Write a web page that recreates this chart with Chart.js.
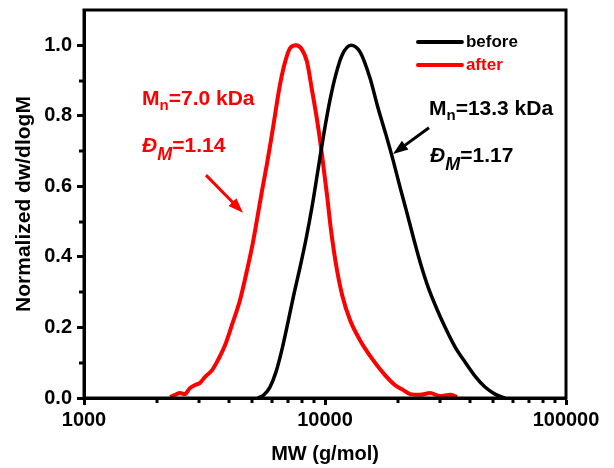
<!DOCTYPE html>
<html>
<head>
<meta charset="utf-8">
<script src="https://cdn.jsdelivr.net/npm/chart.js@4.4.1/dist/chart.umd.min.js"></script>
<style>
  html, body { margin: 0; padding: 0; background: #fff; }
</style>
</head>
<body>
<canvas id="gpcChart" width="614" height="468"></canvas>
<script>
// GPC traces (MW in g/mol, normalized dw/dlogM)
const mwBefore = [5272, 5583, 5912, 6262, 6631, 7022, 7436, 7875, 8340, 8834, 9355, 9906, 10490, 11110, 11770, 12820, 13970, 15370, 16600, 17910, 19150, 20480, 21890, 23410, 25020, 26760, 28880, 31470, 34630, 38090, 41920, 46120, 50740, 55840]
const wBefore = [0, 0.009, 0.031, 0.074, 0.138, 0.215, 0.295, 0.370, 0.450, 0.542, 0.647, 0.752, 0.845, 0.919, 0.972, 1.0, 0.981, 0.907, 0.822, 0.746, 0.675, 0.598, 0.524, 0.448, 0.377, 0.315, 0.258, 0.201, 0.145, 0.102, 0.062, 0.031, 0.011, 0]

const mwAfter = [2275, 2390, 2500, 2620, 2750, 2890, 3030, 3180, 3400, 3600, 3850, 4110, 4440, 4750, 5020, 5220, 5480, 5744, 5970, 6202, 6444, 6760, 7160, 7590, 8040, 8420, 8830, 9270, 9720, 10190, 10590, 11120, 11780, 12700, 13970, 15810, 17740, 19500, 21070, 22540, 24770, 27290, 30000, 33040, 35320]
const wAfter = [0.003, 0.009, 0.014, 0.011, 0.028, 0.037, 0.043, 0.060, 0.079, 0.108, 0.150, 0.207, 0.278, 0.363, 0.440, 0.505, 0.588, 0.664, 0.731, 0.802, 0.873, 0.941, 0.992, 1.0, 0.987, 0.953, 0.873, 0.788, 0.689, 0.576, 0.476, 0.377, 0.292, 0.221, 0.164, 0.108, 0.065, 0.037, 0.023, 0.011, 0.009, 0.014, 0.006, 0.009, 0.003]

const seriesLabels = ['before', 'after']
const seriesColors = ['#000000', '#ff0000']

const xTicks = [1000, 10000, 100000]
const xMinorTicks = [2000, 3000, 4000, 5000, 6000, 7000, 8000, 9000, 20000, 30000, 40000, 50000, 60000, 70000, 80000, 90000]
const yTicks = [0, 0.2, 0.4, 0.6, 0.8, 1.0]
const yMinorTicks = [0.1, 0.3, 0.5, 0.7, 0.9]

const FONT = "'Liberation Sans', Arial, sans-serif"

// annotation anchors in data space [MW, value]
const notes = [
  { color: '#ff0000', at: [1741, 0.831], parts: [['M', 21, false, 0], ['n', 15, false, 5], ['=7.0 kDa', 21, false, 0]] },
  { color: '#ff0000', at: [1741, 0.697], parts: [['Đ', 21, true, 0], ['M', 18, true, 8], ['=1.14', 21, false, 0]] },
  { color: '#000000', at: [27010, 0.802], parts: [['M', 21, false, 0], ['n', 15, false, 5], ['=13.3 kDa', 21, false, 0]] },
  { color: '#000000', at: [27280, 0.669], parts: [['Đ', 21, true, 0], ['M', 18, true, 8], ['=1.17', 21, false, 0]] }
]
const arrows = [
  { color: '#ff0000', from: [3208, 0.632], to: [4567, 0.525] },
  { color: '#000000', from: [27010, 0.766], to: [19150, 0.692] }
]
const legendAt = { x1: 24320, x2: 36990, rows: [1.009, 0.944] }

function toPoints(xs, ys) {
  return xs.map((x, i) => ({ x: x, y: ys[i] }))
}

const extras = {
  id: 'extras',
  afterDraw(chart) {
    const ctx = chart.ctx
    const xs = chart.scales.x
    const ys = chart.scales.y
    const area = chart.chartArea

    // frame
    ctx.save()
    ctx.strokeStyle = '#000'
    ctx.lineWidth = 3
    ctx.strokeRect(area.left, area.top, area.right - area.left, area.bottom - area.top)

    // minor ticks
    ctx.beginPath()
    xMinorTicks.forEach(v => {
      const px = Math.round(xs.getPixelForValue(v))
      ctx.moveTo(px, area.bottom)
      ctx.lineTo(px, area.bottom + 5)
    })
    yMinorTicks.forEach(v => {
      const py = Math.round(ys.getPixelForValue(v))
      ctx.moveTo(area.left, py)
      ctx.lineTo(area.left - 5, py)
    })
    ctx.stroke()

    // legend
    ctx.lineCap = 'round'
    ctx.font = 'bold 17px ' + FONT
    ctx.textBaseline = 'middle'
    chart.data.datasets.forEach((ds, i) => {
      const py = ys.getPixelForValue(legendAt.rows[i])
      const a = xs.getPixelForValue(legendAt.x1)
      const b = xs.getPixelForValue(legendAt.x2)
      ctx.strokeStyle = ds.borderColor
      ctx.lineWidth = 4
      ctx.beginPath()
      ctx.moveTo(a, py)
      ctx.lineTo(b, py)
      ctx.stroke()
      ctx.fillStyle = ds.borderColor
      ctx.fillText(ds.label, b + 4, py)
    })

    // labels with subscripts
    ctx.textBaseline = 'alphabetic'
    notes.forEach(n => {
      let px = xs.getPixelForValue(n.at[0])
      const py = ys.getPixelForValue(n.at[1])
      ctx.fillStyle = n.color
      n.parts.forEach(p => {
        ctx.font = (p[2] ? 'italic ' : '') + 'bold ' + p[1] + 'px ' + FONT
        ctx.fillText(p[0], px, py + p[3])
        px += ctx.measureText(p[0]).width
      })
    })

    // arrows
    arrows.forEach(a => {
      const x1 = xs.getPixelForValue(a.from[0]), y1 = ys.getPixelForValue(a.from[1])
      const x2 = xs.getPixelForValue(a.to[0]), y2 = ys.getPixelForValue(a.to[1])
      const ang = Math.atan2(y2 - y1, x2 - x1)
      const head = 15
      const c = Math.cos(ang), s = Math.sin(ang)
      ctx.strokeStyle = a.color
      ctx.fillStyle = a.color
      ctx.lineWidth = 3
      ctx.lineCap = 'butt'
      ctx.beginPath()
      ctx.moveTo(x1, y1)
      ctx.lineTo(x2 - c * head * 0.8, y2 - s * head * 0.8)
      ctx.stroke()
      ctx.beginPath()
      ctx.moveTo(x2, y2)
      ctx.lineTo(x2 - head * c + 5.5 * s, y2 - head * s - 5.5 * c)
      ctx.lineTo(x2 - head * c - 5.5 * s, y2 - head * s + 5.5 * c)
      ctx.closePath()
      ctx.fill()
    })
    ctx.restore()
  }
}

const config = {
  type: 'line',
  data: {
    datasets: [
      {
        label: seriesLabels[0],
        data: toPoints(mwBefore, wBefore),
        borderColor: seriesColors[0],
        borderWidth: 3.5,
        pointRadius: 0,
        cubicInterpolationMode: 'monotone'
      },
      {
        label: seriesLabels[1],
        data: toPoints(mwAfter, wAfter),
        borderColor: seriesColors[1],
        borderWidth: 4,
        pointRadius: 0,
        cubicInterpolationMode: 'monotone'
      }
    ]
  },
  options: {
    responsive: false,
    animation: false,
    devicePixelRatio: 1,
    layout: { padding: { top: 10, right: 48, left: 0, bottom: 0 } },
    plugins: {
      legend: { display: false },
      tooltip: { enabled: false }
    },
    scales: {
      x: {
        type: 'logarithmic',
        min: 1000,
        max: 100000,
        afterBuildTicks: (scale) => { scale.ticks = xTicks.map(v => ({ value: v, major: true })) },
        afterFit: (scale) => {
          scale.height = 70
          scale.paddingLeft = 0
          scale.paddingRight = 0
        },
        ticks: {
          color: '#000',
          font: { family: FONT, size: 20, weight: 'bold' },
          padding: 3,
          maxRotation: 0,
          callback: (v) => String(v)
        },
        grid: { drawOnChartArea: false, tickLength: 7, tickWidth: 3, tickColor: '#000' },
        border: { width: 3, color: '#000' },
        title: {
          display: true,
          text: 'MW (g/mol)',
          color: '#000',
          font: { family: FONT, size: 20, weight: 'bold' },
          padding: { top: 0, bottom: 2 }
        }
      },
      y: {
        min: 0,
        max: 1.1,
        afterBuildTicks: (scale) => { scale.ticks = yTicks.map(v => ({ value: v })) },
        afterFit: (scale) => {
          scale.width = 84
          scale.paddingTop = 0
          scale.paddingBottom = 0
        },
        ticks: {
          color: '#000',
          font: { family: FONT, size: 20, weight: 'bold' },
          padding: 5,
          callback: (v) => Number(v).toFixed(1)
        },
        grid: { drawOnChartArea: false, tickLength: 7, tickWidth: 3, tickColor: '#000' },
        border: { width: 3, color: '#000' },
        title: {
          display: true,
          text: 'Normalized dw/dlogM',
          color: '#000',
          font: { family: FONT, size: 21, weight: 'bold' },
          padding: { top: 12, bottom: 0 }
        }
      }
    }
  },
  plugins: [extras]
}

const gpcChart = new Chart(document.getElementById('gpcChart'), config)
</script>
</body>
</html>
